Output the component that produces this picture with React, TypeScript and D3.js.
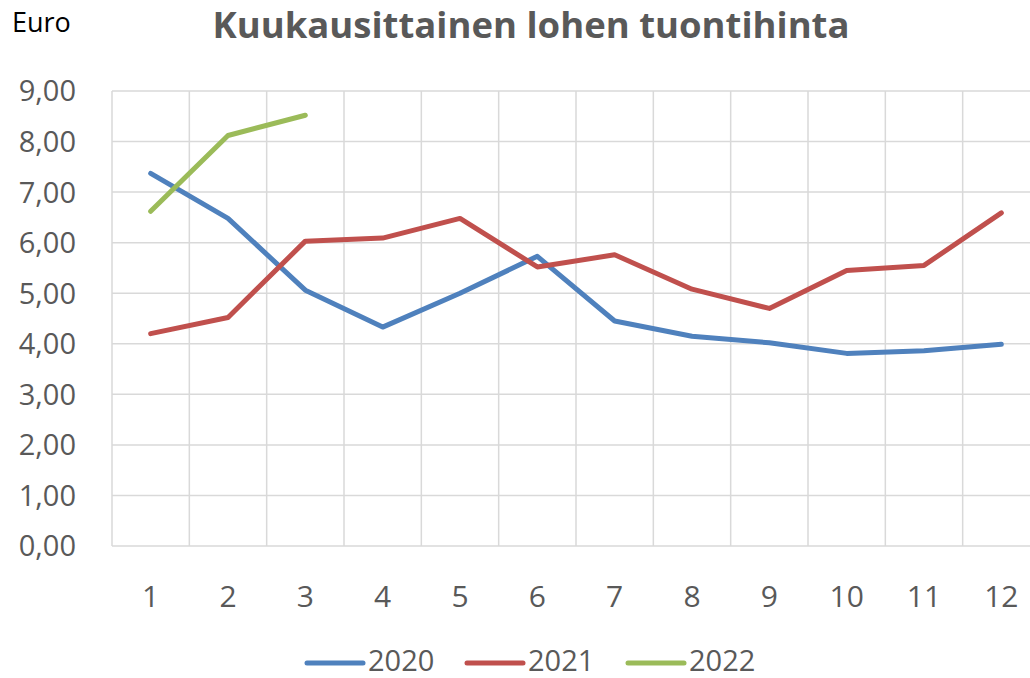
import React from "react";
import * as d3 from "d3";

const months = ["1", "2", "3", "4", "5", "6", "7", "8", "9", "10", "11", "12"];
const s2020 = [7.37, 6.48, 5.06, 4.33, 5.0, 5.73, 4.45, 4.15, 4.02, 3.81, 3.86, 3.99];
const s2021 = [4.2, 4.52, 6.03, 6.09, 6.48, 5.52, 5.76, 5.08, 4.7, 5.45, 5.55, 6.59];
const s2022 = [6.62, 8.12, 8.52];
const yTicks = [0, 1, 2, 3, 4, 5, 6, 7, 8, 9];
const seriesNames = ["2020", "2021", "2022"];
const colors = ["#4F81BD", "#C0504D", "#9BBB59"];

const W = 1030;
const H = 678;
const left = 112;
const right = 1040;
const top = 91;
const bottom = 546;

export default function App() {
  const x = d3.scaleBand<string>().domain(months).range([left, right]);
  const y = d3.scaleLinear().domain([0, 9]).range([bottom, top]);
  const line = d3
    .line<number>()
    .x((_, i) => (x(months[i]) as number) + x.bandwidth() / 2)
    .y((d) => y(d));
  const series = [s2020, s2021, s2022];
  const fmt = (v: number) => v.toFixed(2).replace(".", ",");
  const font = "'Open Sans', sans-serif";
  const legendX = [307, 467, 628];

  return (
    <svg
      width={W}
      height={H}
      style={{ position: "absolute", left: 0, top: 0, background: "#fff" }}
    >
      <rect x={0} y={0} width={W} height={H} fill="#fff" />
      <text x={12} y={32} fontFamily={font} fontSize={27} fill="#000">
        Euro
      </text>
      <text
        x={531}
        y={38}
        textAnchor="middle"
        fontFamily={font}
        fontWeight="bold"
        fontSize={35}
        fill="#595959"
        textLength={637}
        lengthAdjust="spacingAndGlyphs"
      >
        Kuukausittainen lohen tuontihinta
      </text>
      {yTicks.map((t) => (
        <line
          key={"h" + t}
          x1={left}
          x2={right}
          y1={y(t)}
          y2={y(t)}
          stroke="#d9d9d9"
          strokeWidth={1.5}
        />
      ))}
      {months.map((m) => (
        <line
          key={"v" + m}
          x1={x(m)}
          x2={x(m)}
          y1={top}
          y2={bottom}
          stroke="#d9d9d9"
          strokeWidth={1.5}
        />
      ))}
      {yTicks.map((t) => (
        <text
          key={"yl" + t}
          x={76}
          y={y(t)}
          dy="0.36em"
          textAnchor="end"
          fontFamily={font}
          fontSize={29}
          fill="#595959"
        >
          {fmt(t)}
        </text>
      ))}
      {months.map((m) => (
        <text
          key={"xl" + m}
          x={(x(m) as number) + x.bandwidth() / 2}
          y={607}
          textAnchor="middle"
          fontFamily={font}
          fontSize={30}
          fill="#595959"
        >
          {m}
        </text>
      ))}
      {series.map((s, i) => (
        <path
          key={"s" + i}
          d={line(s) || ""}
          fill="none"
          stroke={colors[i]}
          strokeWidth={5}
          strokeLinejoin="round"
          strokeLinecap="round"
        />
      ))}
      {seriesNames.map((n, i) => (
        <g key={"lg" + n}>
          <line
            x1={legendX[i]}
            x2={legendX[i] + 56}
            y1={663}
            y2={663}
            stroke={colors[i]}
            strokeWidth={5}
            strokeLinecap="round"
          />
          <text
            x={legendX[i] + 61}
            y={671}
            fontFamily={font}
            fontSize={29}
            fill="#595959"
          >
            {n}
          </text>
        </g>
      ))}
    </svg>
  );
}
